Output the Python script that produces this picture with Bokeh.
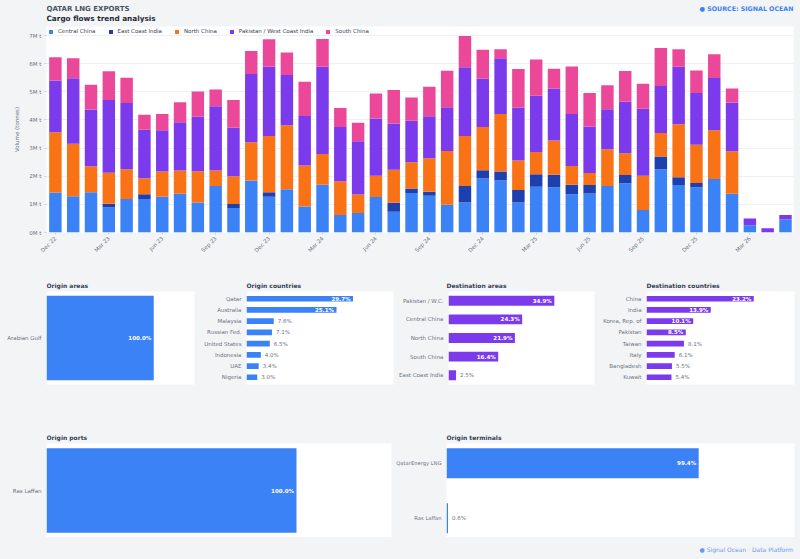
import math
from bokeh.plotting import figure
from bokeh.models import ColumnDataSource, Legend, LegendItem, Label, Range1d, FixedTicker
from bokeh.layouts import row, column
from bokeh.embed import file_html
from bokeh.resources import INLINE
from bokeh.core.properties import value

# ---------------- data ----------------
months = ["Dec 22", "Jan 23", "Feb 23", "Mar 23", "Apr 23", "May 23", "Jun 23", "Jul 23", "Aug 23",
          "Sep 23", "Oct 23", "Nov 23", "Dec 23", "Jan 24", "Feb 24", "Mar 24", "Apr 24", "May 24",
          "Jun 24", "Jul 24", "Aug 24", "Sep 24", "Oct 24", "Nov 24", "Dec 24", "Jan 25", "Feb 25",
          "Mar 25", "Apr 25", "May 25", "Jun 25", "Jul 25", "Aug 25", "Sep 25", "Oct 25", "Nov 25",
          "Dec 25", "Jan 26", "Feb 26", "Mar 26", "Apr 26", "May 26"]

series_names = ["Central China", "East Coast India", "North China",
                "Pakistan / West Coast India", "South China"]
series_colors = ["#3b82f6", "#1e40af", "#f97316", "#7c3aed", "#ec4899"]

# million tonnes per month
central_china = [1.42, 1.29, 1.43, 0.89, 1.19, 1.19, 1.27, 1.38, 1.07, 1.65, 0.87, 1.85, 1.27, 1.54,
                 0.92, 1.70, 0.62, 0.69, 1.26, 0.74, 1.40, 1.31, 0.99, 1.07, 1.92, 1.85, 1.07, 1.63,
                 1.61, 1.36, 1.39, 1.65, 1.75, 0.80, 2.25, 1.69, 1.61, 1.90, 1.38, 0.26, 0.00, 0.46]
east_coast_india = [0, 0, 0, 0.13, 0, 0.17, 0, 0, 0, 0, 0.14, 0, 0.16, 0,
                    0, 0, 0, 0, 0, 0.32, 0.16, 0.14, 0, 0.58, 0.29, 0.32, 0.44, 0.44,
                    0.44, 0.34, 0.30, 0, 0.29, 0, 0.45, 0.27, 0.15, 0, 0, 0, 0, 0]
north_china = [2.14, 1.86, 0.92, 1.10, 1.06, 0.57, 0.90, 0.82, 1.11, 0.55, 0.99, 1.36, 2.00, 2.27,
               1.46, 1.09, 1.20, 0.66, 0.76, 1.17, 0.94, 1.19, 1.91, 1.78, 1.54, 2.04, 1.05, 0.79,
               1.22, 0.66, 0.42, 1.31, 0.78, 1.22, 0.84, 1.89, 1.36, 1.73, 1.51, 0, 0, 0]
pakistan_wc_india = [1.84, 2.33, 2.02, 2.59, 2.35, 1.72, 1.46, 1.72, 1.93, 2.29, 1.72, 2.42, 2.46, 1.79,
                     1.76, 3.10, 1.93, 1.89, 2.03, 1.64, 1.47, 1.49, 1.55, 2.44, 1.71, 1.98, 1.87, 2.00,
                     1.85, 1.85, 1.66, 1.42, 1.83, 2.38, 1.67, 2.04, 1.84, 1.86, 1.73, 0.24, 0.15, 0.16]
south_china = [0.83, 0.71, 0.88, 1.02, 0.90, 0.53, 0.58, 0.71, 0.90, 0.59, 0.99, 0.82, 0.98, 0.80,
               1.22, 0.99, 0.67, 0.66, 0.89, 1.19, 0.83, 1.05, 1.30, 1.11, 1.03, 0.32, 1.38, 1.29,
               0.70, 1.69, 1.19, 0.85, 1.09, 0.89, 1.35, 0.62, 0.80, 0.84, 0.50, 0, 0, 0]

y_ticks_mt = [0, 1, 2, 3, 4, 5, 6, 7]

origin_area_labels = ["Arabian Gulf"]
origin_area_pct = [100.0]
origin_country_labels = ["Qatar", "Australia", "Malaysia", "Russian Fed.", "United States",
                         "Indonesia", "UAE", "Nigeria"]
origin_country_pct = [29.7, 25.1, 7.6, 7.1, 6.5, 4.0, 3.4, 3.0]
dest_area_labels = ["Pakistan / W.C.", "Central China", "North China", "South China", "East Coast India"]
dest_area_pct = [34.9, 24.3, 21.9, 16.4, 2.5]
dest_country_labels = ["China", "India", "Korea, Rep. of", "Pakistan", "Taiwan", "Italy",
                       "Bangladesh", "Kuwait"]
dest_country_pct = [23.2, 13.9, 10.1, 8.5, 8.1, 6.1, 5.5, 5.4]
port_labels = ["Ras Laffan"]
port_pct = [100.0]
terminal_labels = ["QatarEnergy LNG", "Ras Laffan"]
terminal_pct = [99.4, 0.6]

# ---------------- style ----------------
FONT = "DejaVu Sans"
BG = "#f3f4f6"
GRAY = "#6b7280"
BLUE = "#3b82f6"
PURPLE = "#7c3aed"
TOTAL_W = 800
LEFT, RIGHT = 46, 7          # frame borders of the full-width figures
FRAME_W = TOTAL_W - LEFT - RIGHT


def strip(height):
    s = figure(width=TOTAL_W, height=height, x_axis_location=None, y_axis_location=None,
               min_border_left=LEFT, min_border_right=RIGHT, min_border_top=0, min_border_bottom=0,
               x_range=Range1d(0, 1), y_range=Range1d(0, 1),
               output_backend="svg", toolbar_location=None, background_fill_color=BG,
               border_fill_color=BG, outline_line_color=None)
    s.grid.visible = False
    return s


def strip_label(s, x, y, text, size, bold=True, color="#374151", align="left"):
    s.add_layout(Label(x=x, y=y, x_units="screen", y_units="screen", text=text,
                       text_font=FONT, text_font_size=size,
                       text_font_style="bold" if bold else "normal",
                       text_color=color, text_baseline="middle", text_align=align))


# ---------------- header ----------------
header = strip(26)
strip_label(header, 0, 26 - 8.3, "QATAR LNG EXPORTS", "7px", color="#4b5563")
strip_label(header, 0, 26 - 18.3, "Cargo flows trend analysis", "7.3px", color="#1f2937")
strip_label(header, FRAME_W, 26 - 8.3, "\u25cf SOURCE: SIGNAL OCEAN", "6.3px", color=BLUE,
            align="right")

# ---------------- main stacked chart ----------------
main = figure(width=TOTAL_W, height=249, x_range=Range1d(-0.5, 41.45), y_range=Range1d(0, 7.32),
              min_border_left=LEFT, min_border_right=RIGHT, min_border_top=0, min_border_bottom=43,
              output_backend="svg", toolbar_location=None, background_fill_color="white",
              border_fill_color=BG, outline_line_color=None)

keys = ["central", "eci", "north", "pak", "south"]
src = ColumnDataSource(dict(x=list(range(len(months))), central=central_china, eci=east_coast_india,
                            north=north_china, pak=pakistan_wc_india, south=south_china))
rends = main.vbar_stack(keys, x="x", width=0.7, fill_color=series_colors, line_color=None, source=src)

main.xgrid.grid_line_color = None
main.ygrid.grid_line_color = "#eef0f4"

main.yaxis.ticker = FixedTicker(ticks=y_ticks_mt)
main.yaxis.major_label_overrides = {t: f"{t}M t" for t in y_ticks_mt}
main.yaxis.axis_label = "Volume (tonnes)"
main.yaxis.axis_label_text_font = FONT
main.yaxis.axis_label_text_font_size = "5.5px"
main.yaxis.axis_label_text_font_style = "normal"
main.yaxis.axis_label_text_color = GRAY
main.yaxis.axis_label_standoff = 6

xt = list(range(0, len(months), 3))
main.xaxis.ticker = FixedTicker(ticks=xt)
main.xaxis.major_label_overrides = {i: months[i] for i in xt}
main.xaxis.major_label_orientation = math.pi / 4

for ax in (main.xaxis, main.yaxis):
    ax.axis_line_color = None
    ax.major_tick_line_color = "#c8ccd3"
    ax.major_tick_out = 2
    ax.major_tick_in = 0
    ax.minor_tick_line_color = None
    ax.major_label_text_font = FONT
    ax.major_label_text_font_size = "5.5px"
    ax.major_label_text_color = GRAY
    ax.major_label_standoff = 3

legend = Legend(items=[LegendItem(label=n, renderers=[r]) for n, r in zip(series_names, rends)],
                location="top_left", orientation="horizontal", label_text_font=FONT,
                label_text_font_size="5.5px", label_text_color="#374151", glyph_width=5,
                glyph_height=5, label_standoff=5, spacing=12, padding=3, margin=2,
                label_height=6, border_line_color=None, background_fill_alpha=0)
main.add_layout(legend)


# ---------------- horizontal bar panels ----------------
def hbar_panel(labels, vals, color, fig_w, left, frame_w, frame_h, bottom,
               bar_h, pad_lo, pad_hi, label_size="5.5px"):
    n = len(labels)
    ys = [n - 1 - i for i in range(n)]
    vmax = max(vals)
    p = figure(width=fig_w, height=frame_h + bottom,
               x_range=Range1d(0, vmax * 1.38), y_range=Range1d(-0.5 - pad_lo, n - 0.5 + pad_hi),
               min_border_left=left, min_border_right=fig_w - left - frame_w,
               min_border_top=0, min_border_bottom=bottom, x_axis_location=None,
               output_backend="svg", toolbar_location=None, background_fill_color="white",
               border_fill_color=BG, outline_line_color=None)
    s = ColumnDataSource(dict(y=ys, v=vals))
    p.hbar(y="y", left=0, right="v", height=bar_h, fill_color=color, line_color=None, source=s)
    inside = [i for i, v in enumerate(vals) if v >= 0.355 * vmax]
    outside = [i for i, v in enumerate(vals) if v < 0.355 * vmax]
    if inside:
        si = ColumnDataSource(dict(y=[ys[i] for i in inside], v=[vals[i] for i in inside],
                                   t=[f"{vals[i]:.1f}%" for i in inside]))
        p.text(x="v", y="y", text="t", source=si, x_offset=-2.5, text_align="right",
               text_baseline="middle", text_font=value(FONT), text_font_size="5.5px",
               text_font_style="bold", text_color="white")
    if outside:
        so = ColumnDataSource(dict(y=[ys[i] for i in outside], v=[vals[i] for i in outside],
                                   t=[f"{vals[i]:.1f}%" for i in outside]))
        p.text(x="v", y="y", text="t", source=so, x_offset=4, text_align="left",
               text_baseline="middle", text_font=value(FONT), text_font_size="5.5px",
               text_color=GRAY)
    p.grid.grid_line_color = None
    p.yaxis.ticker = FixedTicker(ticks=ys)
    p.yaxis.major_label_overrides = {y: lab for y, lab in zip(ys, labels)}
    p.yaxis.axis_line_color = None
    p.yaxis.major_tick_line_color = None
    p.yaxis.minor_tick_line_color = None
    p.yaxis.major_tick_out = 0
    p.yaxis.major_tick_in = 0
    p.yaxis.major_label_standoff = 5
    p.yaxis.major_label_text_font = FONT
    p.yaxis.major_label_text_font_size = label_size
    p.yaxis.major_label_text_color = GRAY
    return p


# row 2
t2 = strip(16)
for x, t in zip([0, 200, 400, 600], ["Origin areas", "Origin countries",
                                    "Destination areas", "Destination countries"]):
    strip_label(t2, x, 6, t, "6px")

R2_FH, R2_BOT = 93, 37
pa = hbar_panel(origin_area_labels, origin_area_pct, BLUE, 196, 46, 148, R2_FH, R2_BOT, 0.91, 0, 0)
pb = hbar_panel(origin_country_labels, origin_country_pct, BLUE, 200, 50, 147, R2_FH, R2_BOT,
                0.5, 0.14, 0.14)
pc = hbar_panel(dest_area_labels, dest_area_pct, PURPLE, 200, 50, 148, R2_FH, R2_BOT, 0.53, 0, 0)
pd_ = hbar_panel(dest_country_labels, dest_country_pct, PURPLE, 204, 50, 148, R2_FH, R2_BOT,
                 0.5, 0.14, 0.14)

# row 3
t3 = strip(22)
strip_label(t3, 0, 6, "Origin ports", "6px")
strip_label(t3, 400, 6, "Origin terminals", "6px")

R3_FH = 94
pe = hbar_panel(port_labels, port_pct, BLUE, 392, 46, 345, R3_FH, 0, 0.9, 0, 0)
pf = hbar_panel(terminal_labels, terminal_pct, BLUE, 408, 54, 348, R3_FH, 0, 0.545, -0.15, -0.14,
                label_size="5.2px")

footer = strip(22)
strip_label(footer, FRAME_W, 22 - 12.3, "\u25cf Signal Ocean \u00b7 Data Platform", "6px",
            bold=False, color="#6b9be8", align="right")

r2 = row(pa, pb, pc, pd_)
r3 = row(pe, pf)
r2.styles = {"background-color": BG}
r3.styles = {"background-color": BG}
layout = column(header, main, t2, r2, t3, r3, footer)
layout.styles = {"background-color": BG}
open("out.html", "w").write(file_html(layout, INLINE))
